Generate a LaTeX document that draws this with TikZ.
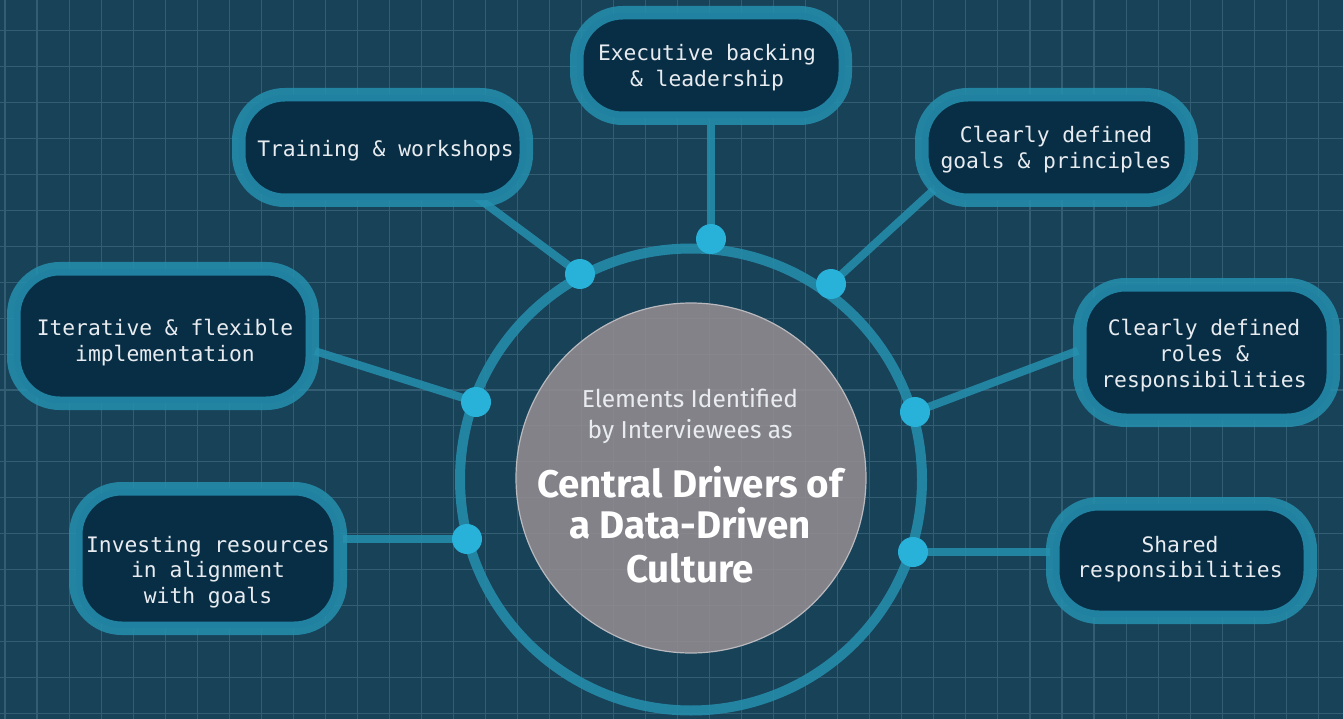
\documentclass[tikz,border=0pt]{standalone}
\usepackage{fontspec}
\setsansfont{Fira Sans}
\newfontfamily\monof{DejaVu Sans Mono}
\usetikzlibrary{calc}
\definecolor{bgc}{RGB}{24,66,88}
\definecolor{gridc}{RGB}{50,93,114}
\definecolor{ringc}{RGB}{38,144,176}
\definecolor{boxc}{RGB}{8,46,69}
\definecolor{dotc}{RGB}{41,178,217}
\definecolor{corec}{RGB}{152,142,146}
\definecolor{coreedge}{RGB}{185,185,190}
\definecolor{txtc}{RGB}{232,236,240}
\pgfdeclarelayer{bglayer}
\pgfdeclarelayer{linklayer}
\pgfsetlayers{bglayer,linklayer,main}
\begin{document}
\begin{tikzpicture}[x=1pt,y=-1pt,
  gridline/.style={draw=gridc,line width=1.1pt},
  ringline/.style={draw=ringc,draw opacity=0.85},
  link/.style={ringline,line width=8pt},
  card/.style={rectangle,rounded corners=46pt,fill=boxc,draw=ringc,draw opacity=0.85,line width=13.5pt,inner sep=0pt},
  cardtext/.style={text=txtc,font=\monof\fontsize{21.3}{25.7}\selectfont,align=center,inner sep=0pt},
  hub/.style={circle,fill=dotc,minimum size=30pt,inner sep=0pt},
  subtext/.style={text=txtc,font=\sffamily\fontsize{24.5}{31}\selectfont,anchor=base,inner sep=0pt},
  maintext/.style={text=white,font=\sffamily\bfseries\fontsize{38.5}{42}\selectfont,anchor=base,inner sep=0pt}]
\useasboundingbox (0,0) rectangle (1343,719);
\begin{pgfonlayer}{bglayer}
  \fill[bgc] (0,0) rectangle (1343,719);
  \foreach \i in {0,...,41} \draw[gridline] ({5+32.03*\i},0) -- ({5+32.03*\i},719);
  \foreach \j in {0,...,19} \draw[gridline] (0,{30.7+35.93*\j}) -- (1343,{30.7+35.93*\j});
  \node[circle,ringline,line width=10pt,minimum size=462pt,inner sep=0pt] (ring) at (691,479.5) {};
\end{pgfonlayer}

% boxes
\node[card,minimum width=268.5pt,minimum height=105.5pt] (exec) at (711,65.5) {};
\node[card,minimum width=287.5pt,minimum height=105.5pt] (train) at (382.5,147.5) {};
\node[card,minimum width=269.5pt,minimum height=105.5pt] (goals) at (1056.5,147.5) {};
\node[card,minimum width=253.5pt,minimum height=135.5pt] (roles) at (1206.5,352.5) {};
\node[card,minimum width=257.5pt,minimum height=113.5pt] (shared) at (1181.5,560.5) {};
\node[card,minimum width=298.5pt,minimum height=134.5pt] (iter) at (163,336) {};
\node[card,minimum width=264.5pt,minimum height=139.5pt] (invest) at (208,558.5) {};

\node[cardtext] (exec-t) at (707,67.5) {Executive backing\\\& leadership};
\node[cardtext] (train-t) at (385.5,151) {Training \& workshops};
\node[cardtext] (goals-t) at (1056,149.5) {Clearly defined\\goals \& principles};
\node[cardtext] (roles-t) at (1204,355.5) {Clearly defined\\roles \&\\responsibilities};
\node[cardtext] (shared-t) at (1180,559) {Shared\\responsibilities};
\node[cardtext] (iter-t) at (165,342.5) {Iterative \& flexible\\implementation};
\node[cardtext] (invest-t) at (208,572) {Investing resources\\in alignment\\with goals};

% hubs on ring
\node[hub] (dTop) at (711,239) {};
\node[hub] (dUL) at (580,274) {};
\node[hub] (dUR) at (831,284) {};
\node[hub] (dL) at (476,402) {};
\node[hub] (dR) at (915,412) {};
\node[hub] (dLL) at (467,539) {};
\node[hub] (dLR) at (913,552) {};

% connectors
\begin{pgfonlayer}{linklayer}
  \draw[link] (dTop.center) -- (exec.south);
  \draw[link,shorten >=-18pt] (dUL.center) -- (train.331.6);
  \draw[link,shorten >=-25pt] (dUR.center) -- (goals.south west);
  \draw[link,shorten >=-5pt] (dR.center) -- (roles.west);
  \draw[link,shorten >=-4pt] (dLR.center) -- (dLR.center -| shared.west);
  \draw[link,shorten >=-4pt] (dL.center) -- (iter.354.1);
  \draw[link,shorten >=-4pt] (dLL.center) -- (dLL.center -| invest.east);
\end{pgfonlayer}

% core
\node[circle,fill=corec,fill opacity=0.85,draw=coreedge,line width=1.2pt,minimum size=350pt,inner sep=0pt] (core) at (691,478) {};
\node[subtext] (l1) at (690,407) {Elements Identified};
\node[subtext] (l2) at (690,438) {by Interviewees as};
\node[maintext] (l3) at (690,497) {Central Drivers of};
\node[maintext] (l4) at (690,538) {a Data-Driven};
\node[maintext] (l5) at (690,582) {Culture};
\end{tikzpicture}
\end{document}
